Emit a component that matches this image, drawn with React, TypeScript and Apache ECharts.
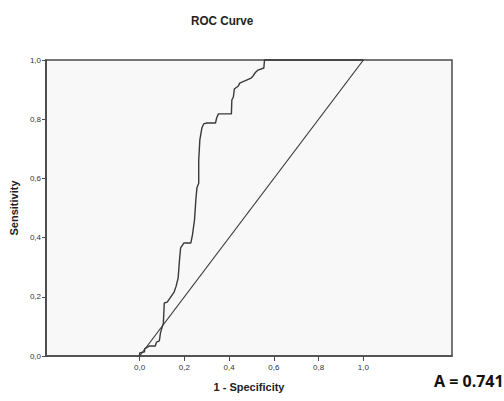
import React, { useEffect, useRef } from "react";
import * as echarts from "echarts";

// ROC curve points (1 - specificity, sensitivity)
const rocFpr = [0, 0, 0.022, 0.022, 0.044, 0.07, 0.075, 0.088, 0.093, 0.106, 0.11, 0.123, 0.154, 0.163, 0.172, 0.178, 0.183, 0.198, 0.229, 0.236, 0.245, 0.249, 0.251, 0.256, 0.264, 0.264, 0.269, 0.278, 0.286, 0.3, 0.339, 0.344, 0.352, 0.41, 0.412, 0.419, 0.423, 0.441, 0.447, 0.498, 0.507, 0.515, 0.529, 0.555, 0.558, 1.0];
const rocTpr = [0, 0.01, 0.014, 0.024, 0.034, 0.034, 0.047, 0.051, 0.078, 0.111, 0.179, 0.182, 0.216, 0.236, 0.264, 0.324, 0.365, 0.382, 0.382, 0.409, 0.459, 0.503, 0.527, 0.568, 0.584, 0.662, 0.73, 0.77, 0.784, 0.787, 0.787, 0.804, 0.818, 0.818, 0.865, 0.875, 0.902, 0.912, 0.922, 0.939, 0.946, 0.956, 0.966, 0.973, 1.0, 1.0];
// reference diagonal
const diagFpr = [0, 1];
const diagTpr = [0, 1];
// tick labels
const xTicks = [0, 0.2, 0.4, 0.6, 0.8, 1.0];
const titleText = "ROC Curve";
const xName = "1 - Specificity";
const yName = "Sensitivity";
const aucText = "A = 0.741";

const fmt = (v: number) => v.toFixed(1).replace(".", ",");

export default function App() {
  const ref = useRef<HTMLDivElement>(null);
  useEffect(() => {
    document.body.style.margin = "0";
    const chart = echarts.init(ref.current!, undefined, { renderer: "svg" });
    const narrow = "'Liberation Sans Narrow', 'Arial Narrow', 'Liberation Sans', sans-serif";
    chart.setOption({
      animation: false,
      backgroundColor: "#ffffff",
      grid: {
        left: 40,
        right: 52,
        top: 60,
        bottom: 45,
        show: true,
        backgroundColor: "#f8f8f8",
        borderColor: "#4a4a4a",
        borderWidth: 1.5,
      },
      graphic: [
        {
          type: "text",
          left: 191,
          top: 14,
          scaleX: 0.9,
          style: {
            text: titleText,
            font: `bold 13px ${narrow}`,
            fill: "#222",
          },
        },
        {
          type: "text",
          left: 434,
          top: 373,
          style: {
            text: aucText,
            font: "bold 16px 'Open Sans', sans-serif",
            fill: "#111",
          },
        },
      ],
      xAxis: {
        type: "value",
        min: -0.4185,
        max: 1.396,
        name: xName,
        nameLocation: "middle",
        nameGap: 25,
        nameTextStyle: { fontFamily: narrow, fontWeight: "bold", fontSize: 11, color: "#222" },
        axisLine: { show: true, onZero: false, lineStyle: { color: "#4a4a4a", width: 1.5 } },
        axisTick: { show: true, inside: false, length: 5, customValues: xTicks, lineStyle: { color: "#4a4a4a" } },
        axisLabel: {
          customValues: xTicks,
          formatter: (v: number) => fmt(v),
          fontSize: 8,
          color: "#333",
          margin: 7,
          fontFamily: narrow,
        },
        splitLine: { show: false },
      },
      yAxis: {
        type: "value",
        min: 0,
        max: 1,
        interval: 0.2,
        name: yName,
        nameLocation: "middle",
        nameGap: 22,
        nameTextStyle: { fontFamily: narrow, fontWeight: "bold", fontSize: 11, color: "#222" },
        axisLine: { show: true, onZero: false, lineStyle: { color: "#4a4a4a", width: 1.8 } },
        axisTick: { show: true, inside: false, length: 4, lineStyle: { color: "#4a4a4a" } },
        axisLabel: {
          formatter: (v: number) => fmt(v),
          fontSize: 8,
          color: "#333",
          margin: 5,
          fontFamily: narrow,
        },
        splitLine: { show: false },
      },
      series: [
        {
          type: "line",
          data: rocFpr.map((x, i) => [x, rocTpr[i]]),
          showSymbol: false,
          symbol: "none",
          lineStyle: { color: "#3a3a3a", width: 1.4 },
          clip: false,
        },
        {
          type: "line",
          data: diagFpr.map((x, i) => [x, diagTpr[i]]),
          showSymbol: false,
          symbol: "none",
          lineStyle: { color: "#3a3a3a", width: 1.2 },
        },
      ],
    });
    return () => chart.dispose();
  }, []);
  return <div ref={ref} style={{ width: 504, height: 401 }} />;
}
